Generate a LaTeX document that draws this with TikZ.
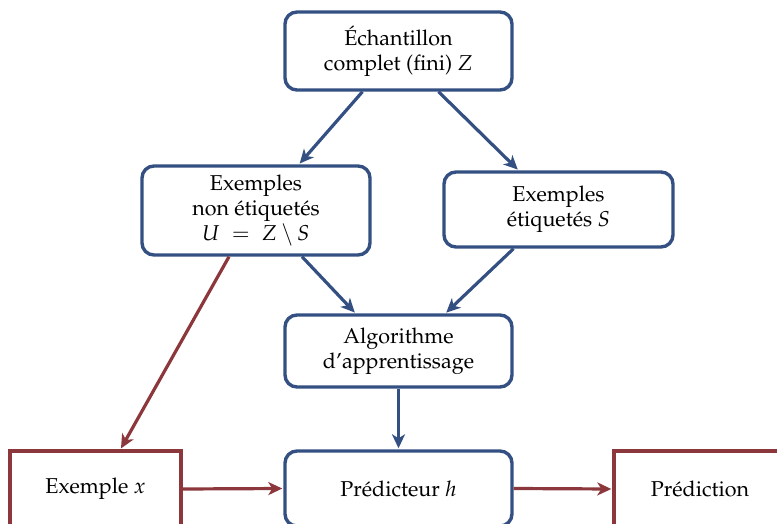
\documentclass[tikz,border=0pt]{standalone}
\usepackage[T1]{fontenc}
\usepackage{mathpazo}
\usetikzlibrary{arrows.meta,calc}
\definecolor{bblue}{RGB}{52,80,130}
\definecolor{rred}{RGB}{140,55,60}
\begin{document}
\begin{tikzpicture}[x=1pt,y=-1pt,
  bbox/.style={draw=bblue,line width=3.4pt,rounded corners=12pt,fill=white,align=center,inner sep=0pt,
    font=\fontsize{21.5}{25}\selectfont},
  rbox/.style={draw=rred,line width=3.4pt,fill=white,align=center,inner sep=0pt,
    font=\fontsize{21.5}{25}\selectfont},
  barrow/.style={draw=bblue,line width=3.2pt,-{Stealth[length=14pt,width=13pt,inset=4pt]},shorten >=1pt},
  rarrow/.style={draw=rred,line width=3.2pt,-{Stealth[length=14pt,width=13pt,inset=4pt]},shorten >=1pt}]
\useasboundingbox (0,0) rectangle (777,524);
\node[bbox,minimum width=227pt,minimum height=78pt] (top) at (398.5,51) {\'Echantillon\\complet (fini) $Z$};
\node[bbox,minimum width=228pt,minimum height=89pt] (non) at (256,210.5) {Exemples\\non \'etiquet\'es\\$U \;=\; Z \setminus S$};
\node[bbox,minimum width=229pt,minimum height=75pt] (etq) at (558.5,209.5) {Exemples\\\'etiquet\'es $S$};
\node[bbox,minimum width=227pt,minimum height=72pt] (alg) at (398.5,351) {Algorithme\\d'apprentissage};
\node[bbox,minimum width=227pt,minimum height=75pt] (pred) at (398.5,488.5) {Pr\'edicteur $h$};
\node[rbox,minimum width=171pt,minimum height=76pt] (ex) at (95.5,489) {Exemple $x$};
\node[rbox,minimum width=172pt,minimum height=76pt] (res) at (700,489) {Pr\'ediction};
\draw[barrow] ([xshift=-36pt]top.south) -- ([xshift=43pt]non.north);
\draw[barrow] ([xshift=40pt]top.south) -- ([xshift=-40pt]etq.north);
\draw[barrow] ([xshift=46pt]non.south) -- ([xshift=-43pt]alg.north);
\draw[barrow] ([xshift=-45pt]etq.south) -- ([xshift=47pt]alg.north);
\draw[barrow] (alg.south) -- (pred.north);
\draw[rarrow] ([xshift=-27pt]non.south) -- ([xshift=25pt]ex.north);
\draw[rarrow] (ex.east) -- (pred.west);
\draw[rarrow] (pred.east) -- (res.west);
\end{tikzpicture}
\end{document}
